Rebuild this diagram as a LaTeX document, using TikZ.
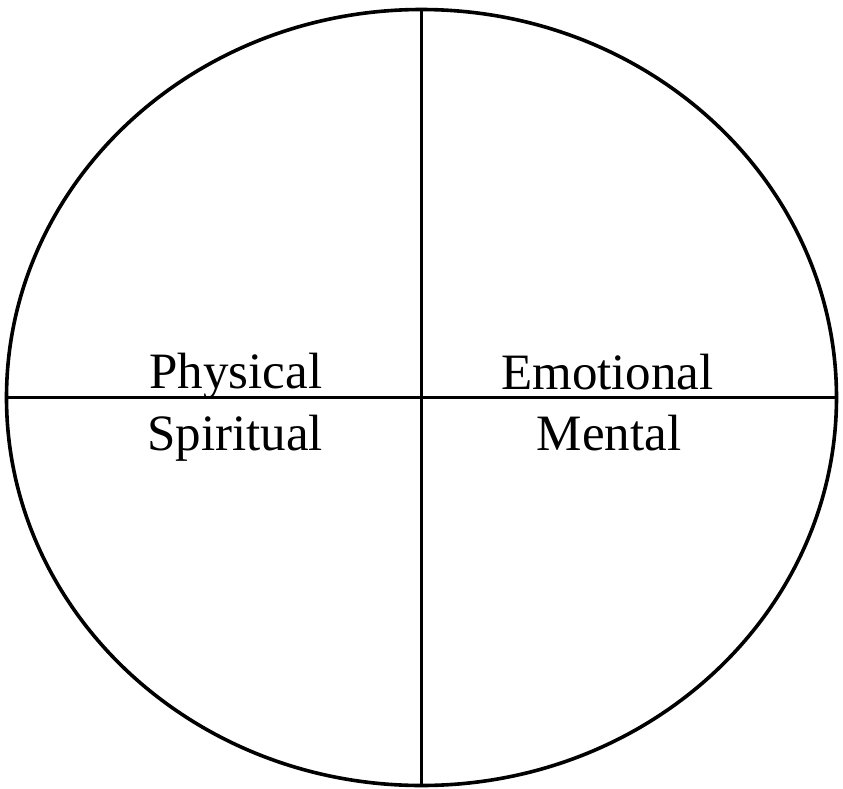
\documentclass[tikz,border=0pt]{standalone}
\usepackage{fontspec}
\setmainfont{Liberation Serif}
\usetikzlibrary{shapes.geometric}
\begin{document}
\begin{tikzpicture}[x=0.5pt,y=-0.5pt,
  quad/.style={anchor=base,font=\fontsize{25.5}{30}\selectfont}]
\useasboundingbox (0,0) rectangle (843,789);
\node[draw,ellipse,line width=1.8pt,inner sep=0pt,minimum width=415pt,minimum height=388pt] (wheel) at (421.5,397.5) {};
\draw[line width=1.8pt] (wheel.north) -- (wheel.south);
\draw[line width=1.8pt] (wheel.west) -- (wheel.east);

\node[quad] (physical) at (236,388) {Physical};
\node[quad] (spiritual) at (235,450) {Spiritual};
\node[quad] (emotional) at (607.5,389) {Emotional};
\node[quad] (mental) at (609,450) {Mental};
\end{tikzpicture}
\end{document}
